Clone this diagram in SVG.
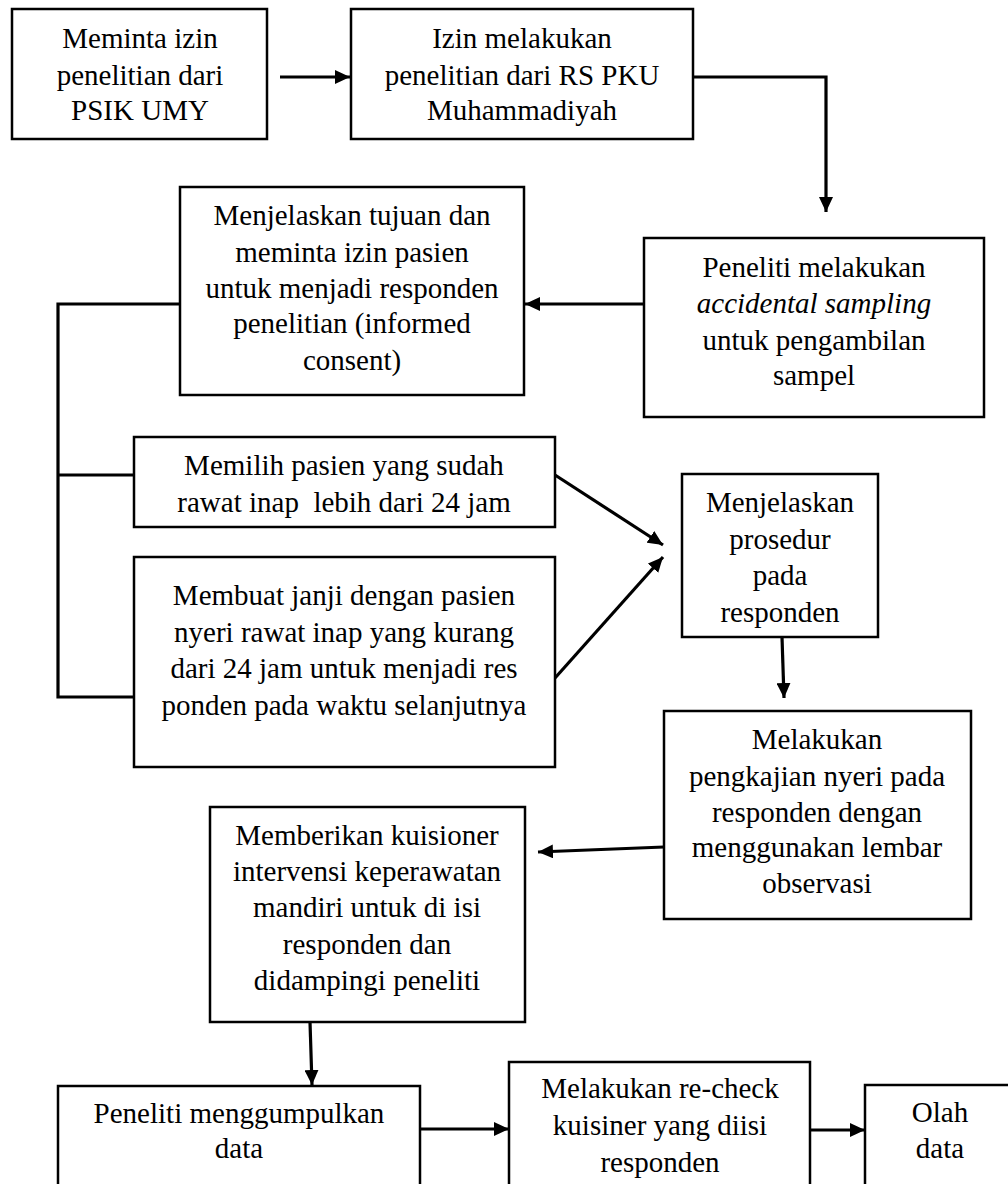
<svg xmlns="http://www.w3.org/2000/svg" width="1008" height="1184" viewBox="0 0 1008 1184">
<style>
.box{fill:#fff;stroke:#000;stroke-width:2.5}
.t{font-family:'Liberation Serif','Times New Roman','DejaVu Serif',serif;font-size:29px;fill:#000;text-anchor:middle;white-space:pre}
.i{font-style:italic}
.c{fill:none;stroke:#000;stroke-width:3.2}
</style>
<defs>
<marker id="ah" markerUnits="userSpaceOnUse" markerWidth="16" markerHeight="14" refX="15" refY="7" orient="auto">
<path d="M0,0 L15,7 L0,14 z" fill="#000"/>
</marker>
</defs>
<rect width="1008" height="1184" fill="#fff"/>
<g id="connectors">
<line class="c" x1="280" y1="77" x2="350" y2="77" marker-end="url(#ah)"/>
<polyline class="c" points="693,77 826,77 826,212" marker-end="url(#ah)"/>
<line class="c" x1="644" y1="304" x2="525" y2="304" marker-end="url(#ah)"/>
<polyline class="c" points="180,304 58,304 58,697 134,697"/>
<line class="c" x1="58" y1="475" x2="134" y2="475"/>
<line class="c" x1="555" y1="475" x2="663" y2="545" marker-end="url(#ah)"/>
<line class="c" x1="555" y1="678" x2="663" y2="557" marker-end="url(#ah)"/>
<line class="c" x1="782" y1="637" x2="784" y2="698" marker-end="url(#ah)"/>
<line class="c" x1="664" y1="847" x2="538" y2="852" marker-end="url(#ah)"/>
<line class="c" x1="310" y1="1022" x2="312" y2="1085" marker-end="url(#ah)"/>
<line class="c" x1="420" y1="1129" x2="509" y2="1129" marker-end="url(#ah)"/>
<line class="c" x1="810" y1="1130" x2="865" y2="1130" marker-end="url(#ah)"/>
</g>
<g id="n1">
<rect class="box" x="12" y="9" width="255" height="130"/>
<text class="t" x="140" y="48">Meminta izin</text>
<text class="t" x="140" y="85">penelitian dari</text>
<text class="t" x="140" y="120">PSIK UMY</text>
</g>
<g id="n2">
<rect class="box" x="351" y="9" width="342" height="130"/>
<text class="t" x="522" y="48">Izin melakukan</text>
<text class="t" x="522" y="85">penelitian dari RS PKU</text>
<text class="t" x="522" y="120">Muhammadiyah</text>
</g>
<g id="n3">
<rect class="box" x="644" y="238" width="340" height="179"/>
<text class="t" x="814" y="277">Peneliti melakukan</text>
<text class="t i" x="814" y="313">accidental sampling</text>
<text class="t" x="814" y="350">untuk pengambilan</text>
<text class="t" x="814" y="385">sampel</text>
</g>
<g id="n4">
<rect class="box" x="180" y="187" width="344" height="208"/>
<text class="t" x="352" y="225">Menjelaskan tujuan dan</text>
<text class="t" x="352" y="262">meminta izin pasien</text>
<text class="t" x="352" y="298">untuk menjadi responden</text>
<text class="t" x="352" y="333">penelitian (informed</text>
<text class="t" x="352" y="370">consent)</text>
</g>
<g id="n5">
<rect class="box" x="134" y="437" width="421" height="90"/>
<text class="t" x="344" y="475">Memilih pasien yang sudah</text>
<text class="t" x="344" y="512">rawat inap  lebih dari 24 jam</text>
</g>
<g id="n6">
<rect class="box" x="134" y="557" width="421" height="210"/>
<text class="t" x="344" y="605">Membuat janji dengan pasien</text>
<text class="t" x="344" y="642">nyeri rawat inap yang kurang</text>
<text class="t" x="344" y="678">dari 24 jam untuk menjadi res</text>
<text class="t" x="344" y="715">ponden pada waktu selanjutnya</text>
</g>
<g id="n7">
<rect class="box" x="682" y="474" width="196" height="163"/>
<text class="t" x="780" y="512">Menjelaskan</text>
<text class="t" x="780" y="549">prosedur</text>
<text class="t" x="780" y="585">pada</text>
<text class="t" x="780" y="622">responden</text>
</g>
<g id="n8">
<rect class="box" x="664" y="711" width="307" height="208"/>
<text class="t" x="817" y="749">Melakukan</text>
<text class="t" x="817" y="786">pengkajian nyeri pada</text>
<text class="t" x="817" y="822">responden dengan</text>
<text class="t" x="817" y="857">menggunakan lembar</text>
<text class="t" x="817" y="893">observasi</text>
</g>
<g id="n9">
<rect class="box" x="210" y="807" width="315" height="215"/>
<text class="t" x="367" y="845">Memberikan kuisioner</text>
<text class="t" x="367" y="881">intervensi keperawatan</text>
<text class="t" x="367" y="917">mandiri untuk di isi</text>
<text class="t" x="367" y="954">responden dan</text>
<text class="t" x="367" y="990">didampingi peneliti</text>
</g>
<g id="n10">
<rect class="box" x="58" y="1086" width="362" height="120"/>
<text class="t" x="239" y="1123">Peneliti menggumpulkan</text>
<text class="t" x="239" y="1158">data</text>
</g>
<g id="n11">
<rect class="box" x="509" y="1062" width="301" height="140"/>
<text class="t" x="660" y="1098">Melakukan re-check</text>
<text class="t" x="660" y="1135">kuisiner yang diisi</text>
<text class="t" x="660" y="1172">responden</text>
</g>
<g id="n12">
<rect class="box" x="865" y="1085" width="160" height="120"/>
<text class="t" x="940" y="1122">Olah</text>
<text class="t" x="940" y="1158">data</text>
</g>
</svg>
